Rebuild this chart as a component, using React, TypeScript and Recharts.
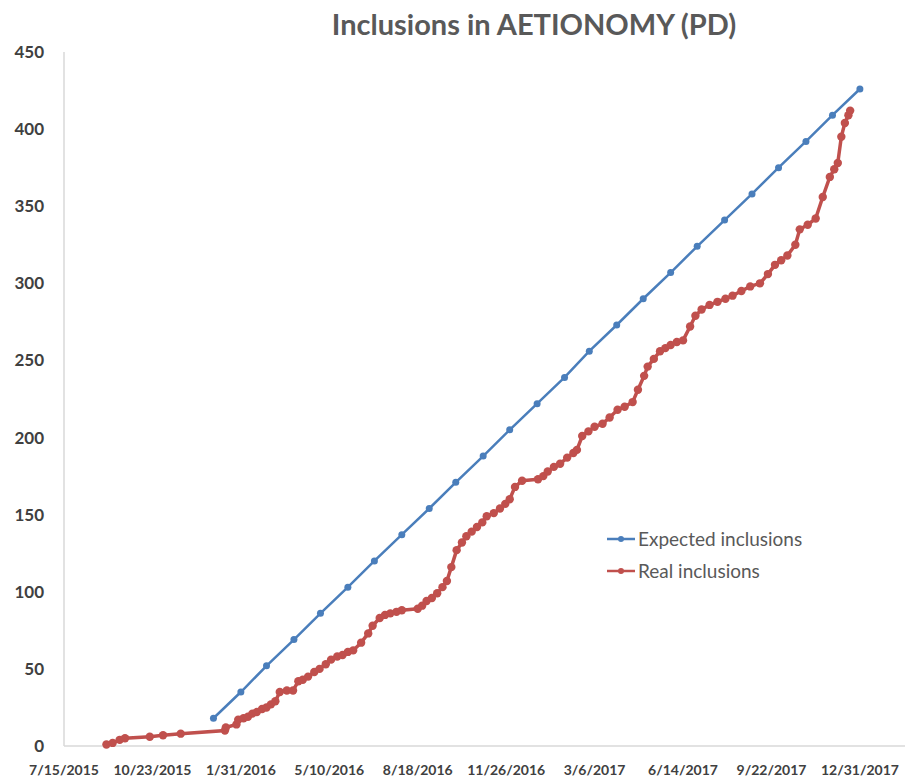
import { LineChart, Line, XAxis, YAxis, Legend } from 'recharts';

// x values are days counted from 7/15/2015
const tickDays = [0, 100, 200, 300, 400, 500, 600, 700, 800, 900];
const tickLabels = [
  '7/15/2015', '10/23/2015', '1/31/2016', '5/10/2016', '8/18/2016',
  '11/26/2016', '3/6/2017', '6/14/2017', '9/22/2017', '12/31/2017',
];
const yTicks = [0, 50, 100, 150, 200, 250, 300, 350, 400, 450];

const expectedDays = [
  169, 200, 229, 260, 290, 321, 351, 382, 413, 443, 474, 504, 535,
  566, 594, 625, 655, 686, 716, 747, 778, 808, 839, 869, 900,
];
const expectedCounts = [
  18, 35, 52, 69, 86, 103, 120, 137, 154, 171, 188, 205, 222,
  239, 256, 273, 290, 307, 324, 341, 358, 375, 392, 409, 426,
];

const realDays = [
  48, 55, 63, 69, 97, 112, 132, 182, 183, 195, 197, 203, 208, 213, 218, 224, 229, 234,
  239, 244, 252, 259, 265, 270, 276, 283, 289, 296, 302, 309, 315, 321, 327, 336,
  344, 349, 357, 363, 369, 376, 382, 400, 405, 410, 416, 422, 428, 433, 438, 444,
  450, 455, 461, 467, 473, 478, 486, 493, 499, 504, 510, 518, 536, 542, 547, 554,
  561, 569, 576, 580, 586, 593, 600, 609, 617, 626, 634, 643, 649, 656, 660, 667,
  674, 680, 686, 693, 700, 708, 714, 721, 730, 739, 748, 756, 766, 776, 787, 796,
  804, 811, 818, 827, 832, 841, 850, 858, 866, 871, 875, 879, 883, 887, 889,
];
const realCounts = [
  1, 2, 4, 5, 6, 7, 8, 10, 12, 14, 17, 18, 19, 21, 22, 24, 25, 27,
  29, 35, 36, 36, 42, 43, 45, 48, 50, 53, 56, 58, 59, 61, 62, 67,
  73, 78, 83, 85, 86, 87, 88, 89, 91, 94, 96, 99, 103, 107, 116, 127,
  132, 136, 139, 142, 145, 149, 151, 154, 157, 160, 168, 172, 173, 175, 178, 181,
  183, 187, 190, 192, 201, 204, 207, 209, 213, 218, 220, 223, 231, 240, 246, 251,
  256, 258, 260, 262, 263, 272, 279, 283, 286, 288, 290, 292, 295, 298, 300, 306,
  312, 315, 318, 325, 335, 338, 342, 356, 369, 374, 378, 395, 404, 409, 412,
];

const expectedData = expectedDays.map((day, i) => ({ day, value: expectedCounts[i] }));
const realData = realDays.map((day, i) => ({ day, value: realCounts[i] }));

const BLUE = '#4a7ebb';
const RED = '#c0504d';

const legendItems = [
  { label: 'Expected inclusions', color: BLUE },
  { label: 'Real inclusions', color: RED },
];

const renderLegend = () => (
  <div style={{ fontFamily: 'Lato', fontSize: 19, color: '#595959', lineHeight: '32px' }}>
    {legendItems.map((item) => (
      <div key={item.label} style={{ display: 'flex', alignItems: 'center' }}>
        <svg width={30} height={10} style={{ marginRight: 2 }}>
          <line x1={1} y1={5} x2={29} y2={5} stroke={item.color} strokeWidth={2.5} />
          <circle cx={15} cy={5} r={3} fill={item.color} />
        </svg>
        <span>{item.label}</span>
      </div>
    ))}
  </div>
);

export default function App() {
  return (
    <div style={{ position: 'absolute', left: 0, top: 0, width: 905, height: 778, background: '#fff', fontFamily: 'Lato' }}>
      <div
        style={{
          position: 'absolute', left: 0, top: 6, width: 1068, textAlign: 'center',
          fontSize: 29, fontWeight: 700, color: '#595959',
        }}
      >
        Inclusions in AETIONOMY (PD)
      </div>
      <LineChart width={905} height={778} margin={{ top: 52, right: 0, bottom: 0, left: 0 }}>
        <XAxis
          dataKey="day"
          type="number"
          domain={[0, 951]}
          ticks={tickDays}
          interval={0}
          tickFormatter={(v: number) => tickLabels[tickDays.indexOf(v)]}
          axisLine={{ stroke: '#d9d9d9', strokeWidth: 1.5 }}
          tickLine={false}
          tickSize={0}
          tickMargin={19}
          height={32}
          tick={{ fill: '#404040', fontSize: 14, fontWeight: 700 }}
        />
        <YAxis
          type="number"
          domain={[0, 450]}
          ticks={yTicks}
          interval={0}
          width={64}
          axisLine={{ stroke: '#d9d9d9', strokeWidth: 1.5 }}
          tickLine={false}
          tickSize={0}
          tickMargin={20}
          tick={{ fill: '#404040', fontSize: 17, fontWeight: 700 }}
        />
        <Legend
          layout="vertical"
          align="center"
          verticalAlign="middle"
          content={renderLegend}
          wrapperStyle={{ left: 606, top: 523, width: 230 }}
        />
        <Line
          data={expectedData}
          dataKey="value"
          name="Expected inclusions"
          stroke={BLUE}
          strokeWidth={2.5}
          dot={{ r: 3.5, fill: BLUE, stroke: BLUE, strokeWidth: 0 }}
          isAnimationActive={false}
        />
        <Line
          data={realData}
          dataKey="value"
          name="Real inclusions"
          stroke={RED}
          strokeWidth={3.5}
          dot={{ r: 4.2, fill: RED, stroke: RED, strokeWidth: 0 }}
          isAnimationActive={false}
        />
      </LineChart>
    </div>
  );
}
